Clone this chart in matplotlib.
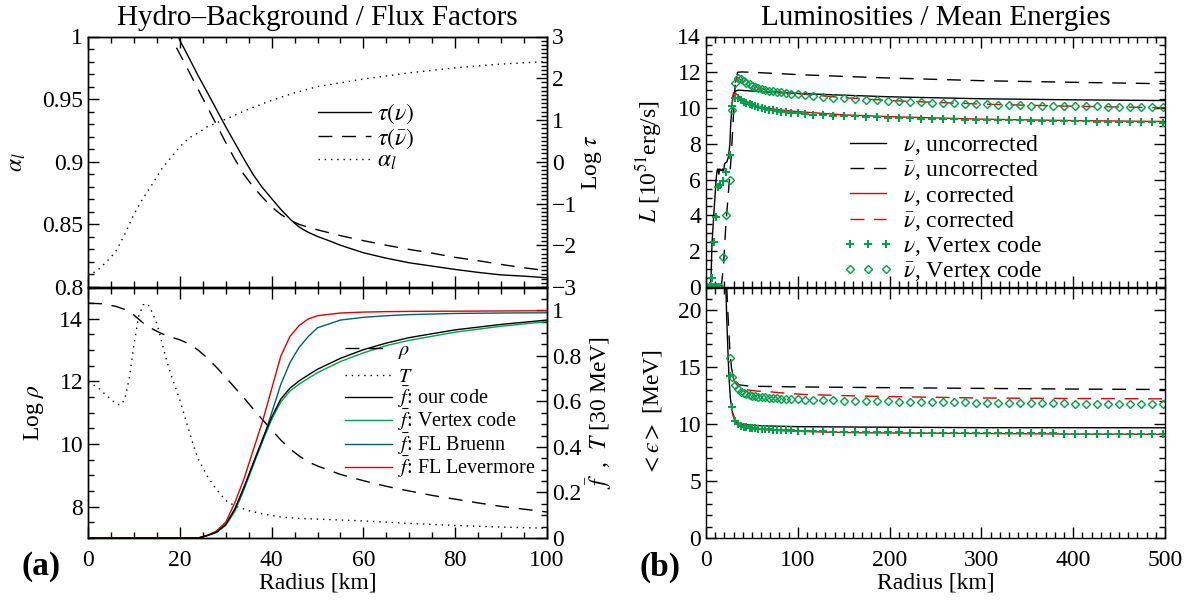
import numpy as np
import matplotlib
matplotlib.use('Agg')
import matplotlib.pyplot as plt
from matplotlib.ticker import MultipleLocator, FuncFormatter

plt.rcParams['font.family'] = ['Liberation Serif', 'DejaVu Serif']
plt.rcParams['mathtext.fontset'] = 'stix'
plt.rcParams['font.size'] = 17
plt.rcParams['axes.linewidth'] = 1.0

# ---------------- panel (a), top: flux factor alpha_l and optical depth
r_alpha = [0, 2, 4, 6, 8, 10, 12, 14, 16, 18, 20, 22, 24, 26, 28, 30, 35, 40, 45, 50, 60, 70, 80, 90, 100]
alpha_l = [0.809, 0.813, 0.820, 0.828, 0.842, 0.858, 0.871, 0.882, 0.894, 0.903, 0.912, 0.919, 0.923,
           0.928, 0.931, 0.934, 0.942, 0.949, 0.955, 0.960, 0.966, 0.971, 0.975, 0.978, 0.980]

r_tau = [18.5, 20, 22, 24, 26, 28, 30, 32, 34, 36, 38, 40, 42, 44, 45, 46, 47, 48, 50, 52, 55, 60, 65, 70,
         75, 80, 85, 90, 95, 100]
logtau_nu = [3.3, 2.91, 2.49, 2.06, 1.66, 1.25, 0.84, 0.45, 0.06, -0.31, -0.62, -0.88, -1.14, -1.37, -1.47,
             -1.56, -1.63, -1.69, -1.79, -1.87, -2.0, -2.18, -2.31, -2.42, -2.5, -2.58, -2.65, -2.71,
             -2.74, -2.78]
r_tau_bar = [17, 18, 20, 22, 24, 26, 28, 30, 32, 34, 36, 38, 40, 42, 44, 46, 48, 50, 55, 60, 65, 70, 75, 80,
             85, 90, 95, 100]
logtau_nubar = [3.24, 3.0, 2.58, 2.16, 1.73, 1.31, 0.89, 0.46, 0.06, -0.31, -0.6, -0.85, -1.08, -1.26, -1.4,
                -1.5, -1.57, -1.63, -1.77, -1.89, -2.0, -2.1, -2.19, -2.29, -2.37, -2.46, -2.54, -2.61]

# ---------------- panel (a), bottom: density, temperature, flux factors
r_rho = [0, 3, 6, 8, 10, 12, 14, 16, 18, 20, 22, 24, 26, 28, 30, 32, 34, 36, 38, 40, 42, 44, 46, 48, 50,
         55, 60, 65, 70, 75, 80, 85, 90, 95, 100]
log_rho = [14.5, 14.48, 14.4, 14.3, 14.12, 13.87, 13.68, 13.53, 13.42, 13.33, 13.2, 13.0, 12.75, 12.45,
           12.13, 11.8, 11.47, 11.12, 10.78, 10.45, 10.13, 9.85, 9.62, 9.43, 9.3, 9.03, 8.83, 8.65, 8.5,
           8.36, 8.24, 8.12, 8.01, 7.92, 7.83]

r_temp = [0, 2, 4, 6, 7, 8, 9, 10, 11, 12, 13, 14, 15, 16, 17, 18, 19, 20, 21, 22, 23, 24, 26, 28, 30,
          32, 35, 38, 42, 46, 50, 60, 70, 80, 90, 100]
temp = [0.683, 0.664, 0.626, 0.592, 0.583, 0.607, 0.703, 0.847, 0.971, 1.024, 1.029, 0.99, 0.942, 0.866,
        0.789, 0.722, 0.664, 0.607, 0.539, 0.472, 0.405, 0.347, 0.271, 0.213, 0.165, 0.141, 0.12, 0.106,
        0.092, 0.086, 0.083, 0.075, 0.064, 0.055, 0.048, 0.043]

r_ff = [0, 24, 26, 28, 30, 32, 34, 36, 38, 40, 42, 44, 46, 48, 50, 55, 60, 65, 70, 80, 90, 100]
ff_ours = [0, 0, 0.011, 0.026, 0.059, 0.127, 0.223, 0.328, 0.434, 0.53, 0.61, 0.658, 0.69, 0.716,
           0.741, 0.789, 0.827, 0.856, 0.88, 0.914, 0.938, 0.957]
ff_vertex = [0, 0, 0.011, 0.024, 0.055, 0.117, 0.213, 0.319, 0.424, 0.52, 0.597, 0.645, 0.676, 0.701,
             0.726, 0.775, 0.813, 0.845, 0.868, 0.904, 0.93, 0.95]
ff_bruenn = [0, 0, 0.011, 0.026, 0.059, 0.127, 0.223, 0.328, 0.424, 0.549, 0.674, 0.77, 0.837, 0.885,
             0.923, 0.957, 0.969, 0.976, 0.981, 0.986, 0.988, 0.989]
ff_levermore = [0, 0, 0.011, 0.031, 0.069, 0.155, 0.261, 0.386, 0.51, 0.654, 0.798, 0.885, 0.933, 0.962,
                0.976, 0.988, 0.992, 0.994, 0.995, 0.996, 0.997, 0.998]

# ---------------- panel (b), top: luminosities [1e51 erg/s]
rL_nu = [4.7, 5.5, 6.5, 8.3, 10.0, 11.0, 12.0, 13.0, 14.0, 15.0, 16.5, 18.0, 19.0, 20.3, 22.8, 24.6, 26.0,
         27.0, 28.2, 29.3, 30.5, 31.9, 35.5, 50, 75, 100, 150, 200, 300, 400, 500]
L_nu = [0.0, 0.5, 2.4, 3.9, 5.2, 6.0, 6.5, 6.6, 6.3, 6.6, 6.5, 6.6, 6.4, 6.9, 7.0, 7.3, 8.0, 9.2, 10.0,
        10.65, 10.85, 10.95, 11.0, 10.95, 10.88, 10.82, 10.72, 10.63, 10.52, 10.46, 10.42]
rL_nubar = [16.7, 19.2, 21.7, 24.6, 27.5, 30.0, 31.9, 34.4, 39, 50, 100, 150, 200, 300, 400, 500]
L_nubar = [0.0, 1.3, 3.55, 5.4, 7.3, 9.7, 11.4, 12.0, 12.02, 12.0, 11.87, 11.77, 11.68, 11.53, 11.44, 11.36]
rL_nu_c = [28.5, 30, 32, 35, 40, 50, 60, 80, 100, 150, 200, 300, 400, 500]
L_nu_c = [10.3, 10.85, 10.82, 10.7, 10.5, 10.22, 10.06, 9.9, 9.8, 9.62, 9.52, 9.38, 9.3, 9.25]
rL_nubar_c = [31.9, 33.5, 36, 40, 50, 60, 80, 100, 150, 200, 300, 400, 500]
L_nubar_c = [11.4, 11.72, 11.65, 11.5, 11.22, 11.06, 10.9, 10.8, 10.58, 10.42, 10.22, 10.1, 10.02]

# Vertex code radial grid
r_vtx = [1, 4.7, 6.5, 8.3, 10.6, 13.0, 15.6, 18.5, 21.5, 25.7, 28.6, 31.9, 34.7, 38.0, 41.0, 44.0, 47.4,
         50.3, 53.6, 57.0, 60.5, 64.5, 68.5, 72.5, 77.0, 82.0, 87.0, 92.5, 100.0, 108.0, 117.0, 127.0, 138.0,
         150.0, 162.0, 174.0, 186.0, 198.0, 210.0, 222.0, 234.0, 246.0, 258.0, 270.0, 282.0, 294.0, 306.0,
         318.0, 330.0, 342.0, 354.0, 366.0, 378.0, 390.0, 402.0, 414.0, 426.0, 438.0, 450.0, 462.0, 474.0,
         486.0, 498.0]
L_vtx_nu = [0.0, 0.05, 0.5, 2.5, 3.9, 5.6, 5.7, 5.9, 6.45, 7.4, 10.1, 10.55, 10.55, 10.45, 10.36, 10.28,
            10.21, 10.15, 10.09, 10.04, 9.99, 9.95, 9.91, 9.87, 9.84, 9.8, 9.77, 9.74, 9.71, 9.67, 9.64, 9.61,
            9.58, 9.55, 9.53, 9.51, 9.49, 9.47, 9.45, 9.43, 9.41, 9.4, 9.38, 9.37, 9.36, 9.35, 9.34, 9.33,
            9.32, 9.31, 9.3, 9.29, 9.28, 9.27, 9.26, 9.25, 9.24, 9.23, 9.22, 9.21, 9.2, 9.2, 9.19]
L_vtx_nubar = [0, 0, 0, 0, 0, 0, 0, 1.7, 4.0, 6.0, 9.9, 11.4, 11.7, 11.6, 11.5, 11.4, 11.32, 11.25, 11.18,
               11.12, 11.07, 11.02, 10.98, 10.94, 10.91, 10.88, 10.85, 10.81, 10.77, 10.73, 10.69, 10.64,
               10.59, 10.54, 10.5, 10.46, 10.43, 10.4, 10.37, 10.35, 10.32, 10.3, 10.28, 10.26, 10.24, 10.22,
               10.2, 10.18, 10.16, 10.15, 10.14, 10.13, 10.12, 10.11, 10.1, 10.09, 10.09, 10.08, 10.08, 10.07,
               10.07, 10.07, 10.07]

# ---------------- panel (b), bottom: mean energies [MeV]
rE_nu = [21.0, 22.5, 23.7, 25.0, 26.5, 28.6, 31.9, 38, 50, 70, 100, 170, 300, 500]
E_nu = [24.0, 19.5, 16.8, 14.2, 12.3, 11.1, 10.26, 10.0, 9.9, 9.83, 9.78, 9.74, 9.69, 9.68]
rE_nubar = [21.5, 24.0, 26.0, 27.8, 30.0, 32.0, 36.0, 48, 100, 200, 300, 400, 500]
E_nubar = [24.0, 19.5, 16.5, 14.9, 14.1, 13.75, 13.45, 13.33, 13.27, 13.2, 13.14, 13.08, 13.04]
rE_nu_c = [28.6, 31, 33.9, 38, 48, 70, 89, 130, 171, 293, 400, 500]
E_nu_c = [11.0, 10.4, 10.1, 9.85, 9.6, 9.47, 9.4, 9.3, 9.24, 9.18, 9.13, 9.1]
rE_nubar_c = [27.8, 30, 31.9, 35, 38, 46, 56, 68, 89, 108, 171, 293, 400, 500]
E_nubar_c = [14.4, 14.0, 13.6, 13.35, 13.2, 13.0, 12.9, 12.85, 12.7, 12.6, 12.46, 12.3, 12.25, 12.22]

E_vtx_nu = [14.2, 11.5, 10.3, 10.0, 9.85, 9.78, 9.73, 9.69, 9.66, 9.63, 9.6, 9.58, 9.56, 9.54, 9.52, 9.5,
            9.48, 9.46, 9.45, 9.43, 9.41, 9.39, 9.37, 9.35, 9.33, 9.31, 9.3, 9.29, 9.28, 9.27, 9.26, 9.25,
            9.24, 9.23, 9.23, 9.22, 9.21, 9.21, 9.2, 9.2, 9.19, 9.19, 9.18, 9.18, 9.17, 9.17, 9.16, 9.16,
            9.16, 9.15, 9.15, 9.15, 9.14, 9.14]
E_vtx_nubar = [15.8, 14.1, 13.4, 13.05, 12.85, 12.72, 12.62, 12.55, 12.5, 12.45, 12.41, 12.37, 12.34, 12.31,
               12.29, 12.27, 12.25, 12.22, 12.2, 12.17, 12.15, 12.12, 12.1, 12.08, 12.06, 12.04, 12.02, 12.0,
               11.99, 11.98, 11.96, 11.95, 11.94, 11.93, 11.92, 11.91, 11.9, 11.89, 11.88, 11.87, 11.86,
               11.85, 11.84, 11.83, 11.82, 11.81, 11.8, 11.79, 11.78, 11.77, 11.76, 11.75, 11.74, 11.73]
E_vtx_start = 9  # energies of the Vertex run start at r_vtx[9]

GREEN = '#00a04a'
TEAL = '#00606e'
RED = '#e00000'
DASH = (0, (10, 7))
DOT = (0, (1, 3.5))
LW = 1.0


def fmt(v, pos):
    return ('%g' % v).replace('-', '\u2212')


def style(ax, left=True, right=True):
    ax.tick_params(which='both', direction='in', top=True, bottom=True, left=left, right=right, width=1.0)
    ax.tick_params(which='major', length=8)
    ax.tick_params(which='minor', length=4)
    ax.tick_params(axis='x', which='major', pad=9)
    ax.yaxis.set_major_formatter(FuncFormatter(fmt))
    ax.xaxis.set_major_formatter(FuncFormatter(fmt))


fig = plt.figure(figsize=(11.89, 6.01), dpi=100)
W, H = 1189.0, 601.0
x_a, x_b, w_ax = 88 / W, 706 / W, 459 / W
y_top, y_bot, h_ax = 1 - 287 / H, 1 - 538 / H, 250.5 / H

# ---- (a) top
ax1 = fig.add_axes([x_a, y_top, w_ax, h_ax])
ax1r = ax1.twinx()
ax1.plot(r_alpha, alpha_l, color='k', lw=LW, ls=DOT)
ax1r.plot(r_tau, logtau_nu, color='k', lw=LW)
ax1r.plot(r_tau_bar, logtau_nubar, color='k', lw=LW, ls=DASH)
ax1.set_xlim(0, 100)
ax1.set_ylim(0.8, 1.0)
ax1r.set_ylim(-3, 3)
ax1.xaxis.set_major_locator(MultipleLocator(20))
ax1.xaxis.set_minor_locator(MultipleLocator(5))
ax1.yaxis.set_major_locator(MultipleLocator(0.05))
ax1.yaxis.set_minor_locator(MultipleLocator(0.01))
ax1r.yaxis.set_major_locator(MultipleLocator(1))
ax1r.yaxis.set_minor_locator(MultipleLocator(0.1))
style(ax1, right=False)
style(ax1r, left=False)
ax1r.tick_params(which='both', top=False, bottom=False)
ax1.tick_params(labelbottom=False)
ax1.set_ylabel(r'$\alpha_l$', labelpad=10)
ax1r.set_ylabel(r'Log $\tau$', labelpad=2)
ax1.set_title('Hydro\u2013Background / Flux Factors', fontsize=21, pad=8)
h1 = [plt.Line2D([], [], color='k', lw=LW),
      plt.Line2D([], [], color='k', lw=LW, ls=DASH),
      plt.Line2D([], [], color='k', lw=LW, ls=DOT)]
ax1r.legend(h1, [r'$\tau(\nu)$', r'$\tau(\bar{\nu})$', r'$\alpha_l$'], loc='upper left',
            bbox_to_anchor=(0.5, 0.74), frameon=False, fontsize=17, handlelength=2.25,
            handletextpad=0.25, labelspacing=0.0, borderpad=0, borderaxespad=0)

# ---- (a) bottom
ax2 = fig.add_axes([x_a, y_bot, w_ax, h_ax], sharex=ax1)
ax2r = ax2.twinx()
ax2.plot(r_rho, log_rho, color='k', lw=LW, ls=DASH)
ax2r.plot(r_temp, temp, color='k', lw=LW, ls=DOT)
ax2r.plot(r_ff, ff_vertex, color=GREEN, lw=LW)
ax2r.plot(r_ff, ff_bruenn, color=TEAL, lw=LW)
ax2r.plot(r_ff, ff_levermore, color=RED, lw=LW)
ax2r.plot(r_ff, ff_ours, color='k', lw=LW)
ax2.set_ylim(7, 15)
ax2r.set_ylim(0, 1.1)
ax2.yaxis.set_major_locator(MultipleLocator(2))
ax2.yaxis.set_minor_locator(MultipleLocator(0.5))
ax2r.yaxis.set_major_locator(MultipleLocator(0.2))
ax2r.yaxis.set_minor_locator(MultipleLocator(0.05))
style(ax2, right=False)
style(ax2r, left=False)
ax2r.tick_params(which='both', top=False, bottom=False)
ax2.set_ylabel(r'Log $\rho$', labelpad=10)
ax2r.set_ylabel(r'$\bar{f}$  ,  $T$ [30 MeV]', labelpad=2)
ax2.set_xlabel('Radius [km]', labelpad=1)
leg_kw = dict(loc='upper left', frameon=False, fontsize=14.5, handlelength=2.35, handletextpad=0.3,
              borderpad=0, borderaxespad=0)
h2a = [plt.Line2D([], [], color='k', lw=LW, ls=DASH),
       plt.Line2D([], [], color='k', lw=LW, ls=DOT)]
leg_a = ax2r.legend(h2a, [r'$\rho$', r'$T$'], bbox_to_anchor=(0.56, 0.785), labelspacing=0.3, **leg_kw)
ax2r.add_artist(leg_a)
h2b = [plt.Line2D([], [], color='k', lw=LW),
       plt.Line2D([], [], color=GREEN, lw=LW),
       plt.Line2D([], [], color=TEAL, lw=LW),
       plt.Line2D([], [], color=RED, lw=LW)]
ax2r.legend(h2b, [r'$\bar{f}$: our code', r'$\bar{f}$: Vertex code',
                  r'$\bar{f}$: FL Bruenn', r'$\bar{f}$: FL Levermore'],
            bbox_to_anchor=(0.56, 0.612), labelspacing=-0.12, **leg_kw)

# ---- (b) top
ax3 = fig.add_axes([x_b, y_top, w_ax, h_ax])
ax3.plot(rL_nu, L_nu, color='k', lw=LW, label=r'$\nu$, uncorrected')
ax3.plot(rL_nubar, L_nubar, color='k', lw=LW, ls=DASH, label=r'$\bar{\nu}$, uncorrected')
ax3.plot(rL_nu_c, L_nu_c, color=RED, lw=LW, label=r'$\nu$, corrected')
ax3.plot(rL_nubar_c, L_nubar_c, color=RED, lw=LW, ls=DASH, label=r'$\bar{\nu}$, corrected')
ax3.plot(r_vtx, L_vtx_nu, ls='none', marker='+', ms=6, mew=1.5, color=GREEN, label=r'$\nu$, Vertex code')
ax3.plot(r_vtx, L_vtx_nubar, ls='none', marker='D', ms=4.2, mew=1.0, mfc='none', mec=GREEN,
         label=r'$\bar{\nu}$, Vertex code')
ax3.set_xlim(0, 500)
ax3.set_ylim(0, 14)
ax3.xaxis.set_major_locator(MultipleLocator(100))
ax3.xaxis.set_minor_locator(MultipleLocator(10))
ax3.yaxis.set_major_locator(MultipleLocator(2))
ax3.yaxis.set_minor_locator(MultipleLocator(0.5))
style(ax3)
ax3.tick_params(labelbottom=False)
ax3.set_ylabel(r'$L$ [10$^{51}$erg/s]', labelpad=10)
ax3.set_title('Luminosities / Mean Energies', fontsize=21, pad=8)
ax3.legend(loc='upper left', bbox_to_anchor=(0.2985, 0.615), frameon=False, fontsize=17, numpoints=3,
           handlelength=2.1, handletextpad=0.45, labelspacing=0.055, borderpad=0, borderaxespad=0)

# ---- (b) bottom
ax4 = fig.add_axes([x_b, y_bot, w_ax, h_ax], sharex=ax3)
ax4.plot(rE_nu, E_nu, color='k', lw=LW)
ax4.plot(rE_nubar, E_nubar, color='k', lw=LW, ls=DASH)
ax4.plot(rE_nu_c, E_nu_c, color=RED, lw=LW)
ax4.plot(rE_nubar_c, E_nubar_c, color=RED, lw=LW, ls=DASH)
ax4.plot(r_vtx[E_vtx_start:], E_vtx_nu, ls='none', marker='+', ms=6, mew=1.5, color=GREEN)
ax4.plot(r_vtx[E_vtx_start:], E_vtx_nubar, ls='none', marker='D', ms=4.2, mew=1.0, mfc='none', mec=GREEN)
ax4.set_ylim(0, 22)
ax4.yaxis.set_major_locator(MultipleLocator(5))
ax4.yaxis.set_minor_locator(MultipleLocator(1))
style(ax4)
ax4.set_ylabel('$<\u03f5>$ [MeV]', labelpad=10)
ax4.set_xlabel('Radius [km]', labelpad=1)

fig.text(41 / W, 1 - 567 / H, '(a)', fontsize=24, fontweight='bold', ha='center', va='center')
fig.text(660 / W, 1 - 567 / H, '(b)', fontsize=24, fontweight='bold', ha='center', va='center')

fig.savefig('out.png', dpi=100)
